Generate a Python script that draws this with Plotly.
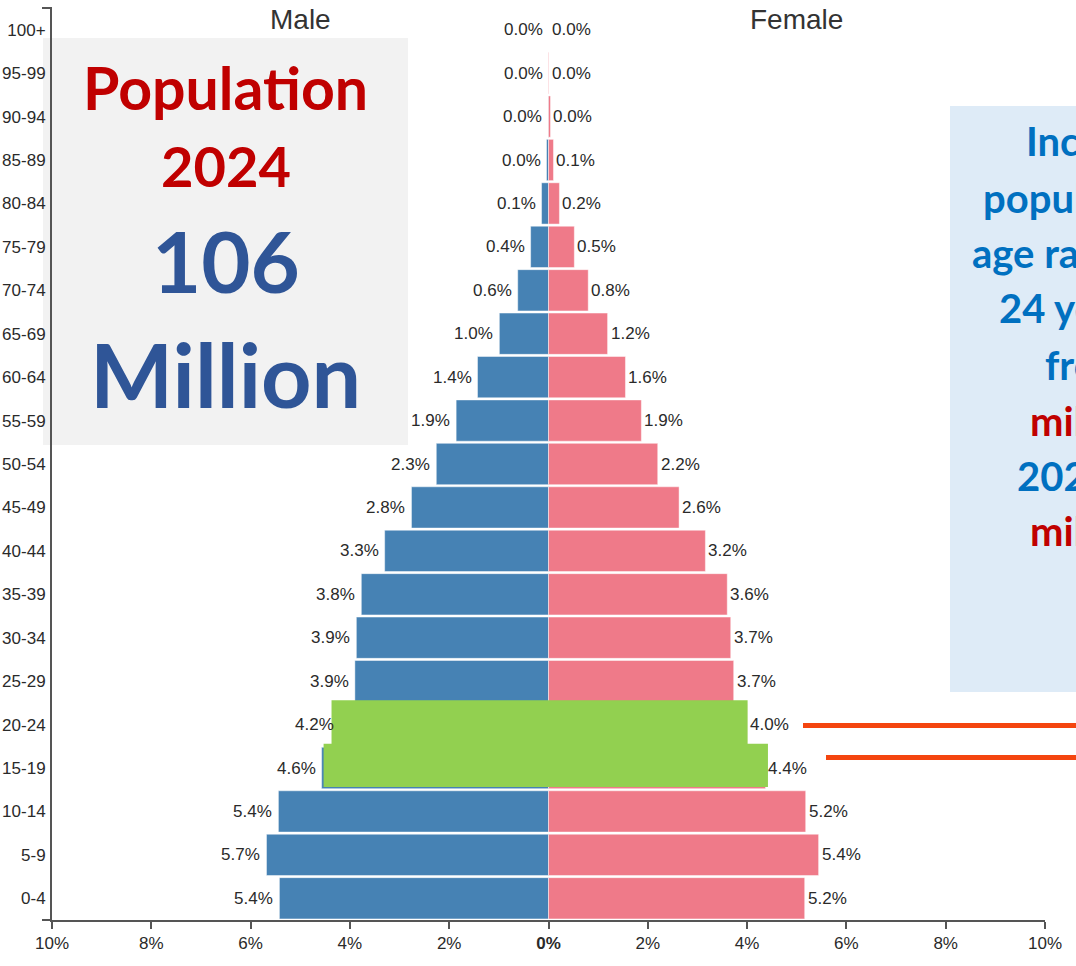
import plotly.graph_objects as go

# ---------------- data ----------------
ages = ["0-4", "5-9", "10-14", "15-19", "20-24", "25-29", "30-34", "35-39",
        "40-44", "45-49", "50-54", "55-59", "60-64", "65-69", "70-74",
        "75-79", "80-84", "85-89", "90-94", "95-99", "100+"]
male = [5.42, 5.68, 5.44, 4.57, 4.20, 3.90, 3.87, 3.77, 3.30, 2.76, 2.26,
        1.86, 1.43, 0.99, 0.62, 0.36, 0.14, 0.04, 0.01, 0.00, 0.00]
female = [5.16, 5.44, 5.18, 4.37, 4.00, 3.73, 3.67, 3.60, 3.16, 2.63, 2.20,
          1.87, 1.55, 1.19, 0.80, 0.52, 0.22, 0.10, 0.04, 0.01, 0.00]
x_tick_vals = [-10, -8, -6, -4, -2, 0, 2, 4, 6, 8, 10]
x_tick_text = ["10%", "8%", "6%", "4%", "2%", "<b>0%</b>", "2%", "4%", "6%", "8%", "10%"]
left_lines = [("Population", "#C00000", 59), ("2024", "#C00000", 56),
              ("106", "#2F5597", 85), ("Million", "#2F5597", 88)]
right_lines = [("Increase in", "#0070C0"), ("population of", "#0070C0"),
               ("age range 15-", "#0070C0"), ("24 years", "#0070C0"),
               ("from", "#0070C0"), ("million", "#C00000"),
               ("2024 to", "#0070C0"), ("million", "#C00000")]

MALE_C = "#4682B4"
FEMALE_C = "#EF7A89"
FONT = "Liberation Sans, Arial"
W, H = 1076, 966
# plot area on screen: x 52..1045, y 8..920
SX0, SX1, SY0, SY1 = 52, 1045, 8, 920
L, T = SX0, SY0
R, B = W - SX1, H - SY1
PW, PH = SX1 - SX0, SY1 - SY0


def px(x):
    return (x - SX0) / PW


def py(y):
    return (SY1 - y) / PH


fig = go.Figure()
fig.add_trace(go.Bar(y=ages, x=[-v for v in male], orientation="h",
                     marker=dict(color=MALE_C, line=dict(color="rgba(255,255,255,0.45)", width=1)),
                     hoverinfo="skip", showlegend=False))
fig.add_trace(go.Bar(y=ages, x=female, orientation="h",
                     marker=dict(color=FEMALE_C, line=dict(color="rgba(255,255,255,0.45)", width=1)),
                     hoverinfo="skip", showlegend=False))

annotations = []
for a, v in zip(ages, male):
    annotations.append(dict(x=-v, y=a, xref="x", yref="y", text=f"{v:.1f}%", showarrow=False,
                            xanchor="right", yanchor="middle", xshift=-4,
                            font=dict(family=FONT, size=17, color="#2a2a2a")))
for a, v in zip(ages, female):
    annotations.append(dict(x=v, y=a, xref="x", yref="y", text=f"{v:.1f}%", showarrow=False,
                            xanchor="left", yanchor="middle", xshift=1,
                            font=dict(family=FONT, size=17, color="#2a2a2a")))

shapes = []
# background boxes
shapes.append(dict(type="rect", xref="paper", yref="paper", x0=px(43), x1=px(408),
                   y0=py(445), y1=py(38), fillcolor="#F2F2F2", line=dict(width=0), layer="below"))
shapes.append(dict(type="rect", xref="paper", yref="paper", x0=px(950), x1=px(1120),
                   y0=py(692), y1=py(106), fillcolor="#DEEBF7", line=dict(width=0), layer="below"))
# green highlight over 15-24
shapes.append(dict(type="rect", xref="x", yref="y", x0=-4.37, x1=4.01, y0=3.55, y1=4.56,
                   fillcolor="#92D050", line=dict(width=0), layer="above"))
shapes.append(dict(type="rect", xref="x", yref="y", x0=-4.53, x1=4.42, y0=2.56, y1=3.56,
                   fillcolor="#92D050", line=dict(width=0), layer="above"))
# orange pointer lines
shapes.append(dict(type="line", xref="paper", yref="paper", x0=px(803), x1=px(1120),
                   y0=py(725.5), y1=py(725.5), line=dict(color="#F4450F", width=5)))
shapes.append(dict(type="line", xref="paper", yref="paper", x0=px(826), x1=px(1120),
                   y0=py(757.5), y1=py(757.5), line=dict(color="#F4450F", width=5)))
# y axis outer ticks
for yy in (0, 1):
    shapes.append(dict(type="line", xref="paper", yref="paper", x0=px(42), x1=0,
                       y0=yy, y1=yy, line=dict(color="#555", width=2)))

annotations.append(dict(x=-5, y=py(19), xref="x", yref="paper", text="Male", showarrow=False,
                        xanchor="center", yanchor="middle",
                        font=dict(family=FONT, size=28, color="#333")))
annotations.append(dict(x=5, y=py(19), xref="x", yref="paper", text="Female", showarrow=False,
                        xanchor="center", yanchor="middle",
                        font=dict(family=FONT, size=28, color="#333")))
left_base = [110, 187, 293, 408]
for (txt, col, sz), bl in zip(left_lines, left_base):
    annotations.append(dict(x=px(225.5), y=py(bl - 0.387 * sz), xref="paper", yref="paper",
                            text=f"<b>{txt}</b>", showarrow=False, xanchor="center", yanchor="middle",
                            font=dict(family="Lato", size=sz, color=col)))
right_left = [1026, 983, 972, 999, 1045, 1030, 1017, 1030]
right_base = [156, 213, 268, 323, 380, 436, 491, 546]
for (txt, col), xl, bl in zip(right_lines, right_left, right_base):
    annotations.append(dict(x=px(xl - 2), y=py(bl - 0.387 * 40), xref="paper", yref="paper",
                            text=f"<b>{txt}</b>", showarrow=False, xanchor="left", yanchor="middle",
                            font=dict(family="Lato", size=40, color=col)))

fig.update_layout(
    width=W, height=H, margin=dict(l=L, r=R, t=T, b=B),
    paper_bgcolor="white", plot_bgcolor="rgba(0,0,0,0)",
    barmode="relative", bargap=0.05,
    shapes=shapes, annotations=annotations,
    xaxis=dict(range=[-10, 10], tickvals=x_tick_vals, ticktext=x_tick_text, automargin=False,
               showgrid=False, zeroline=False, showline=True, linecolor="#555", linewidth=2,
               ticks="outside", ticklen=7, tickwidth=2, tickcolor="#555",
               tickfont=dict(family=FONT, size=17, color="#2a2a2a")),
    yaxis=dict(range=[-0.5, 20.5], categoryorder="array", categoryarray=ages, automargin=False,
               showgrid=False, zeroline=False, showline=True, linecolor="#555", linewidth=2,
               ticks="", ticklabelstandoff=1,
               tickfont=dict(family=FONT, size=17, color="#2a2a2a")),
)
fig.write_html("out.html", config={"displayModeBar": False},
               post_script="document.body.style.margin='0px';document.body.style.overflow='hidden';")
